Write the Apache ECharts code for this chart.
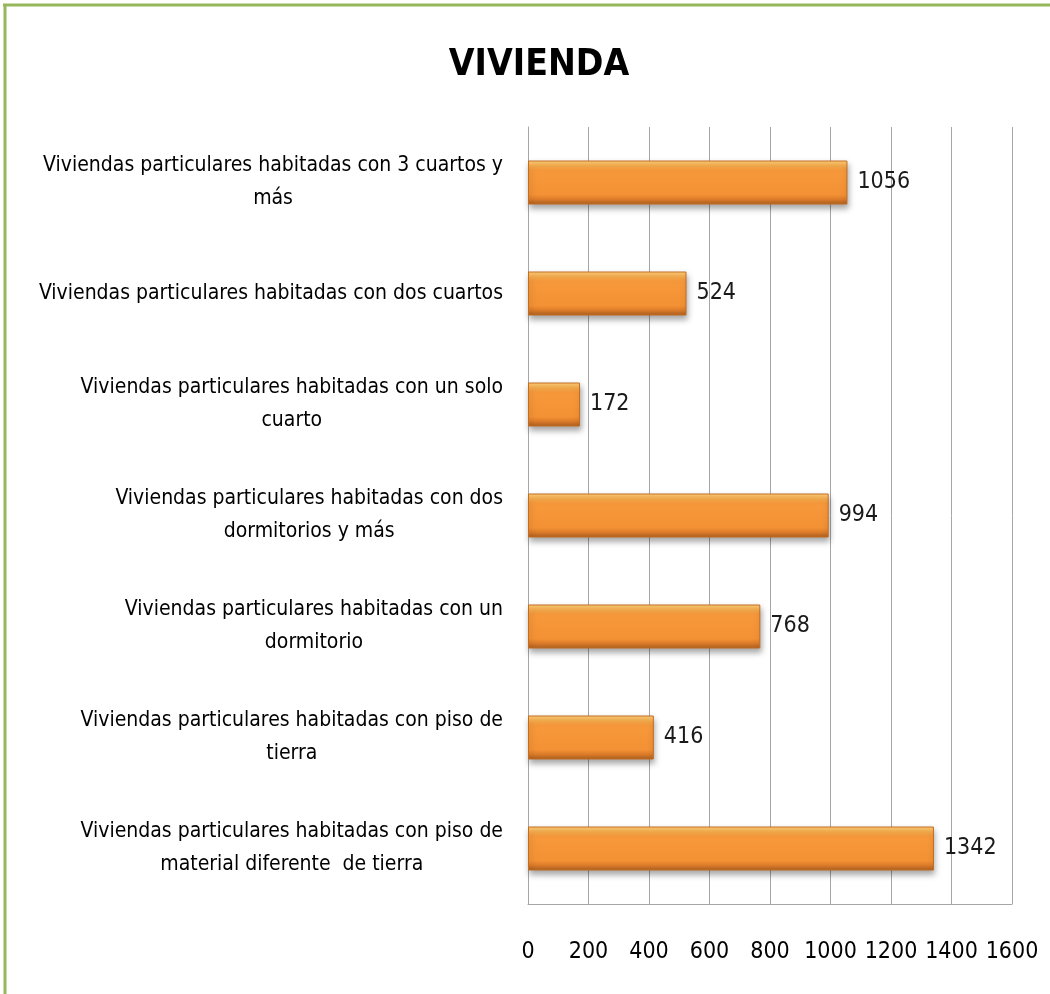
<!DOCTYPE html>
<html>
<head>
<meta charset="utf-8">
<script src="https://cdn.jsdelivr.net/npm/echarts@6/dist/echarts.min.js"></script>
<style>
html,body{margin:0;padding:0;background:#fff;}
#chart{width:1050px;height:994px;}
</style>
</head>
<body>
<div id="chart"></div>
<script>
const titleText = 'VIVIENDA';
const categories = [
  'Viviendas particulares habitadas con 3 cuartos y\nmás',
  'Viviendas particulares habitadas con dos cuartos',
  'Viviendas particulares habitadas con un solo\ncuarto',
  'Viviendas particulares habitadas con dos\ndormitorios y más',
  'Viviendas particulares habitadas con un\ndormitorio',
  'Viviendas particulares habitadas con piso de\ntierra',
  'Viviendas particulares habitadas con piso de\nmaterial diferente  de tierra'
];
const values = [1056, 524, 172, 994, 768, 416, 1342];
const axisMin = 0, axisMax = 1600, axisStep = 200;

const FONT = "'Liberation Sans Narrow', 'DejaVu Sans Condensed', 'Liberation Sans', sans-serif";
const chart = echarts.init(document.getElementById('chart'));
chart.setOption({
  backgroundColor: '#ffffff',
  animation: false,
  title: {
    text: titleText,
    left: 534,
    textAlign: 'center',
    top: 42,
    textStyle: { fontFamily: FONT, fontSize: 37, fontWeight: 'bold', color: '#000' }
  },
  graphic: [
    { type: 'line', shape: { x1: 3, y1: 5, x2: 1050, y2: 5 }, style: { stroke: '#94b85a', lineWidth: 3 } },
    { type: 'line', shape: { x1: 5, y1: 4, x2: 5, y2: 994 }, style: { stroke: '#94b85a', lineWidth: 3 } }
  ],
  grid: { left: 528, right: 38, top: 127, bottom: 90, containLabel: false, outerBoundsMode: 'none' },
  xAxis: {
    type: 'value', min: axisMin, max: axisMax, interval: axisStep,
    axisLine: { show: true, lineStyle: { color: '#a6a6a6', width: 1 } },
    axisTick: { show: false },
    splitLine: { show: true, lineStyle: { color: '#a6a6a6', width: 1 } },
    axisLabel: {
      margin: 37, fontFamily: FONT, fontSize: 23, color: '#000',
      showMinLabel: true, showMaxLabel: true, hideOverlap: false,
      formatter: function (v) { return String(v); }
    }
  },
  yAxis: {
    type: 'category', data: categories, inverse: true,
    axisLine: { show: true, lineStyle: { color: '#a6a6a6', width: 1 } },
    axisTick: { show: false },
    axisLabel: {
      margin: 25, align: 'right',
      formatter: function (v) { return v.split('\n').map(l => '{c|' + l + '}').join('\n'); },
      rich: { c: { align: 'center', fontFamily: FONT, fontSize: 21, color: '#000', lineHeight: 33 } }
    }
  },
  series: [{
    type: 'bar',
    data: values,
    barWidth: 44,
    itemStyle: {
      color: new echarts.graphic.LinearGradient(0, 0, 0, 1, [
        { offset: 0, color: '#fdd27c' },
        { offset: 0.12, color: '#f9ae4e' },
        { offset: 0.22, color: '#f7993b' },
        { offset: 0.78, color: '#f39134' },
        { offset: 0.88, color: '#dd7c2a' },
        { offset: 1, color: '#a95e20' }
      ]),
      borderColor: '#c46c22',
      borderWidth: 1,
      shadowColor: 'rgba(0,0,0,0.35)',
      shadowBlur: 6,
      shadowOffsetY: 4,
      shadowOffsetX: 1
    },
    label: {
      show: true, position: 'right', distance: 10,
      fontFamily: FONT, fontSize: 23, color: '#1a1a1a'
    }
  }]
});
</script>
</body>
</html>
